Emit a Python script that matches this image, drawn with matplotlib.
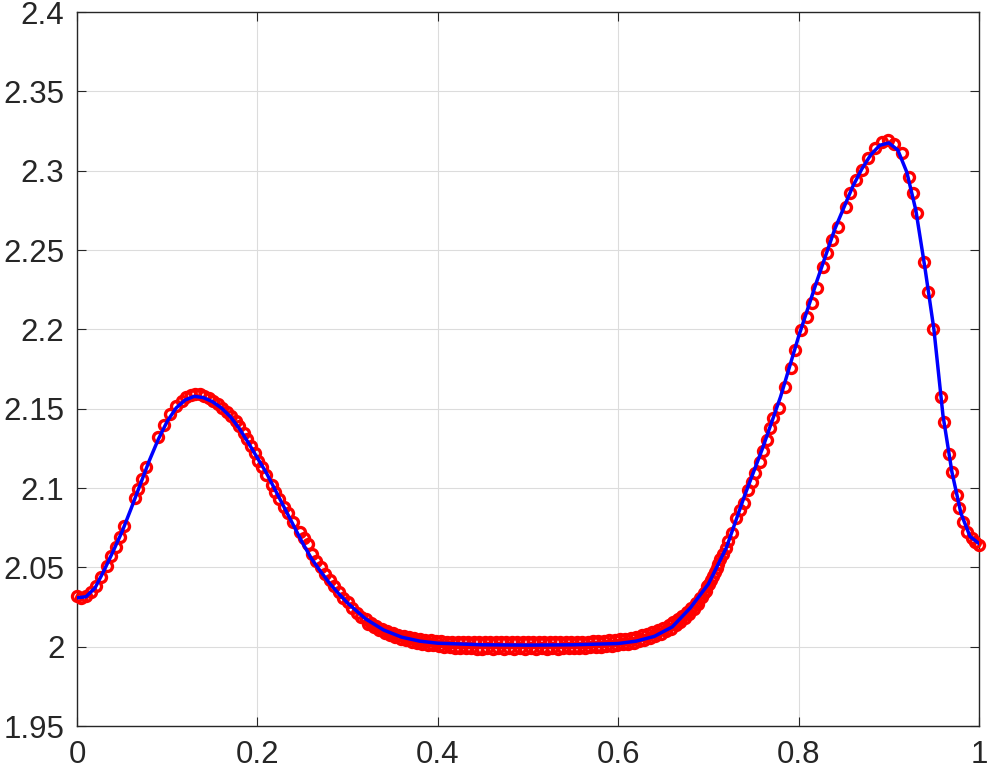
import numpy as np
import matplotlib
matplotlib.use('Agg')
import matplotlib.pyplot as plt

# numerical solution (red circles)
mk_x = [0.000, 0.005, 0.010, 0.016, 0.021, 0.027, 0.033, 0.038, 0.043, 0.048,
        0.052, 0.064, 0.068, 0.072, 0.077, 0.090, 0.096, 0.103, 0.110, 0.116,
        0.121, 0.126, 0.131, 0.136, 0.141, 0.146, 0.151, 0.156, 0.161, 0.166,
        0.171, 0.176, 0.180, 0.185, 0.189, 0.193, 0.197, 0.201, 0.205, 0.210,
        0.216, 0.220, 0.224, 0.229, 0.234, 0.240, 0.247, 0.252, 0.256, 0.261,
        0.265, 0.270, 0.275, 0.280, 0.285, 0.290, 0.295, 0.300, 0.305, 0.310,
        0.315, 0.320, 0.323, 0.326, 0.329, 0.332, 0.335, 0.338, 0.341, 0.344,
        0.347, 0.350, 0.353, 0.356, 0.359, 0.362, 0.365, 0.368, 0.371, 0.374,
        0.377, 0.380, 0.383, 0.386, 0.389, 0.392, 0.395, 0.398,
        0.401, 0.404, 0.407, 0.410, 0.413, 0.416, 0.419, 0.422, 0.425, 0.428,
        0.431, 0.434, 0.437, 0.440, 0.443, 0.446, 0.449, 0.452, 0.455, 0.458,
        0.461, 0.464, 0.467, 0.470, 0.473, 0.476, 0.479, 0.482, 0.485, 0.488,
        0.491, 0.494, 0.497, 0.500, 0.503, 0.506, 0.509, 0.512, 0.515, 0.518,
        0.521, 0.524, 0.527, 0.530, 0.533, 0.536, 0.539, 0.542, 0.545, 0.548,
        0.551, 0.554, 0.557, 0.560, 0.563, 0.566, 0.569, 0.572, 0.575, 0.578,
        0.581, 0.584, 0.587, 0.590, 0.593, 0.596, 0.599,
        0.602, 0.605, 0.608, 0.611, 0.614, 0.617, 0.620, 0.623, 0.626, 0.629,
        0.632, 0.635, 0.638, 0.641, 0.644, 0.647, 0.650, 0.653, 0.656, 0.659,
        0.661, 0.664, 0.666, 0.669, 0.671, 0.674, 0.676, 0.679, 0.681, 0.684,
        0.686, 0.689, 0.691, 0.693, 0.695, 0.697, 0.699, 0.701, 0.703, 0.705,
        0.707, 0.709, 0.711, 0.713, 0.716, 0.719, 0.722, 0.726, 0.731, 0.735,
        0.739, 0.744, 0.748, 0.752, 0.757, 0.761, 0.765, 0.768, 0.772, 0.778,
        0.785, 0.792, 0.796, 0.803, 0.809, 0.815, 0.820, 0.827, 0.831, 0.837,
        0.844, 0.852, 0.857, 0.864, 0.870, 0.877, 0.885, 0.892, 0.899, 0.906,
        0.915, 0.922, 0.927, 0.931, 0.939, 0.943, 0.949, 0.958, 0.961, 0.967,
        0.970, 0.976, 0.978, 0.982, 0.987, 0.992, 0.996, 1.000]
mk_y = [2.0322, 2.0310, 2.0318, 2.0345, 2.0385, 2.0440, 2.0510, 2.0570, 2.0630, 2.0690,
        2.0760, 2.0935, 2.0995, 2.1060, 2.1130, 2.1320, 2.1395, 2.1465, 2.1520, 2.1550,
        2.1572, 2.1585, 2.1592, 2.1592, 2.1582, 2.1568, 2.1550, 2.1528, 2.1503, 2.1478,
        2.1452, 2.1420, 2.1392, 2.1345, 2.1308, 2.1265, 2.1220, 2.1172, 2.1132, 2.1080,
        2.1020, 2.0975, 2.0930, 2.0880, 2.0840, 2.0785, 2.0725, 2.0685, 2.0650, 2.0582,
        2.0542, 2.0500, 2.0460, 2.0418, 2.0380, 2.0345, 2.0310, 2.0280, 2.0245, 2.0215,
        2.0188, 2.0172, 2.0146, 2.0148, 2.0122, 2.0130, 2.0104, 2.0114, 2.0088, 2.0100,
        2.0074, 2.0086, 2.0062, 2.0076, 2.0050, 2.0066, 2.0040, 2.0058, 2.0032, 2.0052,
        2.0024, 2.0048, 2.0018, 2.0044, 2.0012, 2.0040, 2.0008, 2.0036,
        2.0004, 2.0034, 2.0000, 2.0032, 1.9996, 2.0030, 1.9994, 2.0030, 1.9992, 2.0030,
        1.9990, 2.0028, 1.9990, 2.0030, 1.9988, 2.0028, 1.9988, 2.0030, 1.9990, 2.0028,
        1.9988, 2.0030, 1.9990, 2.0028, 1.9988, 2.0030, 1.9990, 2.0028, 1.9988, 2.0030,
        1.9990, 2.0028, 1.9988, 2.0030, 1.9990, 2.0028, 1.9988, 2.0030, 1.9990, 2.0028,
        1.9988, 2.0030, 1.9990, 2.0028, 1.9988, 2.0030, 1.9990, 2.0028, 1.9990, 2.0030,
        1.9992, 2.0030, 1.9992, 2.0032, 1.9994, 2.0032, 1.9996, 2.0034, 1.9998, 2.0036,
        2.0000, 2.0038, 2.0002, 2.0040, 2.0006, 2.0042, 2.0010,
        2.0046, 2.0014, 2.0050, 2.0020, 2.0056, 2.0026, 2.0064, 2.0034, 2.0072, 2.0044,
        2.0082, 2.0054, 2.0094, 2.0066, 2.0106, 2.0080, 2.0120, 2.0096, 2.0136, 2.0114,
        2.0154, 2.0136, 2.0172, 2.0158, 2.0194, 2.0182, 2.0218, 2.0208, 2.0244, 2.0236,
        2.0274, 2.0268, 2.0306, 2.0316, 2.0340, 2.0354, 2.0380, 2.0396, 2.0422, 2.0444,
        2.0468, 2.0494, 2.0520, 2.0550, 2.0585, 2.0620, 2.0665, 2.0714, 2.0809, 2.0860,
        2.0903, 2.0987, 2.1040, 2.1093, 2.1166, 2.1235, 2.1303, 2.1380, 2.1440, 2.1502,
        2.1638, 2.1754, 2.1870, 2.1996, 2.2080, 2.2164, 2.2259, 2.2395, 2.2479, 2.2563,
        2.2647, 2.2773, 2.2857, 2.2941, 2.3004, 2.3078, 2.3141, 2.3183, 2.3193, 2.3170,
        2.3111, 2.2960, 2.2860, 2.2733, 2.2424, 2.2235, 2.2002, 2.1574, 2.1416, 2.1214,
        2.1101, 2.0956, 2.0874, 2.0786, 2.0723, 2.0685, 2.0660, 2.0641]

# reference solution (blue line)
ln_x = [0.00, 0.01, 0.02, 0.03, 0.04, 0.05, 0.06, 0.07, 0.08, 0.09,
        0.10, 0.11, 0.12, 0.13, 0.14, 0.15, 0.16, 0.17, 0.18, 0.19,
        0.20, 0.21, 0.22, 0.23, 0.24, 0.25, 0.26, 0.27, 0.28, 0.29,
        0.30, 0.32, 0.34, 0.36, 0.38, 0.40, 0.45, 0.50, 0.55, 0.60,
        0.62, 0.64, 0.66, 0.68, 0.70, 0.72, 0.74, 0.76, 0.78, 0.80,
        0.82, 0.84, 0.86, 0.87, 0.88, 0.89, 0.90, 0.91, 0.92, 0.93,
        0.94, 0.95, 0.96, 0.97, 0.98, 0.99, 1.00]
ln_y = [2.0308, 2.0315, 2.0370, 2.0480, 2.0600, 2.0725, 2.0870, 2.1020, 2.1170, 2.1305,
        2.1420, 2.1505, 2.1555, 2.1578, 2.1570, 2.1545, 2.1505, 2.1450, 2.1375, 2.1285,
        2.1190, 2.1095, 2.0985, 2.0875, 2.0765, 2.0655, 2.0555, 2.0475, 2.0400, 2.0335,
        2.0275, 2.0175, 2.0105, 2.0060, 2.0035, 2.0022, 2.0012, 2.0010, 2.0012, 2.0020,
        2.0035, 2.0065, 2.0125, 2.0245, 2.0395, 2.0625, 2.0950, 2.1250, 2.1575, 2.1955,
        2.2300, 2.2630, 2.2900, 2.3010, 2.3100, 2.3160, 2.3175, 2.3130, 2.2990, 2.2750,
        2.2390, 2.2000, 2.1460, 2.1100, 2.0840, 2.0695, 2.0650]

plt.rcParams['font.family'] = ['Liberation Sans', 'DejaVu Sans']

fig = plt.figure(figsize=(9.88, 7.70), dpi=100)
ax = fig.add_axes([0.0779, 0.0571, 0.9130, 0.9273])

ax.plot(mk_x, mk_y, 'o', color='red', markerfacecolor='none',
        markersize=7.2, markeredgewidth=2.4, zorder=3, clip_on=False)
ax.plot(ln_x, ln_y, '-', color='blue', linewidth=2.5, zorder=4)

ax.set_xlim(0, 1)
ax.set_ylim(1.95, 2.4)
ax.set_xticks([0, 0.2, 0.4, 0.6, 0.8, 1])
ax.set_xticklabels(['0', '0.2', '0.4', '0.6', '0.8', '1'])
ax.set_yticks(np.arange(1.95, 2.41, 0.05))
ax.set_yticklabels(['1.95', '2', '2.05', '2.1', '2.15', '2.2', '2.25', '2.3', '2.35', '2.4'])

ax.grid(True, color='#dcdcdc', linewidth=0.8)
ax.set_axisbelow(True)
ax.tick_params(direction='in', length=6.5, width=0.8, colors='#262626',
               labelsize=22.5, top=True, right=True)
ax.tick_params(axis='y', pad=9)
ax.tick_params(axis='x', pad=10)
for s in ax.spines.values():
    s.set_color('#262626')
    s.set_linewidth(1.0)

fig.savefig('out.png', dpi=100)
